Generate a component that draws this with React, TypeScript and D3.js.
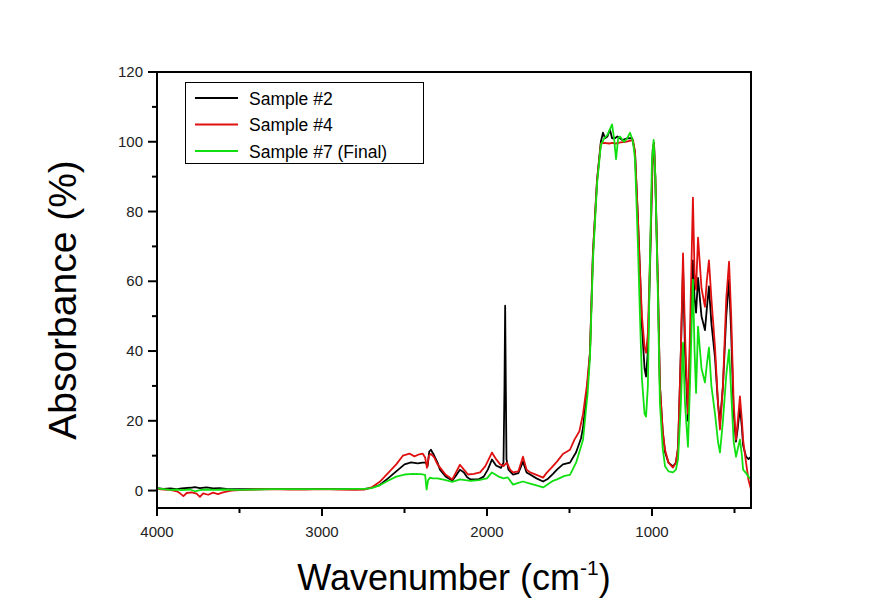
import React from "react";
import * as d3 from "d3";

type Pt = [number, number];

const sample2: Pt[] = [
[4000,0.7],[3960,0.5],[3920,0.6],[3880,0.4],[3850,0.6],[3800,0.8],[3770,1.0],[3740,0.7],[3700,0.9],[3660,0.6],[3620,0.7],[3580,0.5],[3500,0.4],[3400,0.4],[3300,0.4],[3200,0.4],[3100,0.4],[3000,0.5],[2900,0.4],[2800,0.4],[2740,0.5],[2700,0.8],[2650,1.6],[2600,3.5],[2550,5.5],[2500,7.5],[2460,8.1],[2420,7.8],[2390,8.0],[2370,8.0],[2360,7.0],[2350,11.2],[2340,11.7],[2325,10.5],[2300,8.0],[2285,6.0],[2250,4.0],[2210,2.9],[2185,4.5],[2164,6.0],[2140,5.2],[2120,3.8],[2100,3.2],[2050,3.2],[2020,4.0],[1995,6.0],[1970,8.9],[1945,7.2],[1915,6.5],[1900,8.0],[1894,30],[1890,53],[1886,30],[1882,9],[1870,6.0],[1842,4.6],[1810,5.0],[1782,8.3],[1760,5.2],[1739,4.6],[1700,3.5],[1660,2.6],[1630,3.4],[1600,4.8],[1576,6.0],[1540,7.5],[1497,8.0],[1460,11],[1430,15],[1418,18],[1395,28],[1376,39.5],[1358,68],[1333,89],[1310,100],[1297,102.6],[1285,101],[1270,101.5],[1255,103.5],[1242,101],[1225,101],[1210,101.5],[1180,100.5],[1150,101],[1120,101],[1103,97],[1085,77.6],[1073,63],[1061,47],[1045,35],[1036,32.7],[1025,40],[1010,68],[995,98],[988,99.7],[980,90],[964,58.5],[952,30],[935,17],[921,11],[900,8],[873,6.9],[855,8],[842,12],[825,40],[812,64],[800,40],[782,20],[770,40],[752,66],[742,55],[733,51],[721,61],[700,50],[679,46],[668,52],[655,58.5],[640,48],[618,38],[600,25],[588,19.5],[570,30],[550,50],[533,60.5],[520,45],[505,22],[491,14],[480,18],[467,24],[455,18],[448,13],[430,9.7],[415,9],[400,9.7]
];

const sample4: Pt[] = [
[4000,0.5],[3960,0.3],[3920,0.2],[3880,-0.2],[3860,-0.8],[3840,-1.6],[3820,-0.7],[3790,-0.5],[3760,-0.9],[3740,-1.8],[3720,-0.8],[3690,-1.2],[3660,-0.6],[3630,-1.0],[3600,-0.5],[3550,0],[3500,0.1],[3400,0.3],[3300,0.4],[3200,0.3],[3100,0.3],[3000,0.4],[2900,0.3],[2800,0.2],[2740,0.3],[2700,0.9],[2650,2.5],[2600,5.0],[2550,7.5],[2510,10.0],[2470,10.6],[2440,9.8],[2410,10.4],[2390,10.6],[2375,9.5],[2364,6.5],[2352,10.0],[2340,10.5],[2320,9.5],[2300,7.5],[2250,4.5],[2210,3.2],[2185,5.5],[2164,7.4],[2140,6.0],[2115,4.6],[2080,4.8],[2042,5.2],[2010,7.0],[1970,10.9],[1945,9.0],[1920,7.5],[1900,7.0],[1880,8.0],[1860,6.0],[1842,5.2],[1810,5.5],[1782,9.7],[1760,6.0],[1739,5.2],[1700,4.5],[1660,3.7],[1640,5.0],[1610,6.5],[1576,8.3],[1540,10.5],[1497,11.7],[1470,14.6],[1440,17],[1418,22],[1395,30],[1376,39.5],[1358,68],[1333,89],[1310,99.5],[1290,99.7],[1260,99.5],[1240,99.7],[1220,99.5],[1190,99.8],[1160,100],[1130,100.3],[1115,100.5],[1103,97],[1085,77.6],[1073,63],[1061,50],[1045,41],[1036,39.5],[1025,45],[1010,70],[995,98],[988,99.7],[980,90],[964,58.5],[952,30],[935,17],[921,11.7],[900,8],[873,6.6],[855,8],[842,12.6],[825,40],[812,68],[800,45],[782,22],[770,45],[752,84],[742,62],[733,57.6],[721,72.5],[700,58],[679,52.7],[668,60],[655,66],[640,55],[618,41],[600,25],[588,17.5],[570,30],[550,55],[533,65.6],[520,50],[505,25],[491,14.6],[480,20],[467,27],[455,20],[448,14.6],[430,8],[415,3],[400,0.3]
];

const sample7: Pt[] = [
[4000,0.6],[3960,0.4],[3920,0.2],[3880,0.3],[3850,0.1],[3800,0.3],[3770,-0.2],[3740,0.1],[3700,0.3],[3650,0.2],[3600,0.3],[3500,0.2],[3400,0.3],[3300,0.4],[3200,0.4],[3100,0.4],[3000,0.4],[2900,0.4],[2800,0.5],[2740,0.5],[2700,0.7],[2650,1.5],[2600,2.8],[2550,4.0],[2500,4.6],[2450,4.8],[2400,4.7],[2375,4.5],[2366,0.3],[2357,3.0],[2345,3.7],[2330,3.5],[2300,3.5],[2250,3.0],[2210,2.5],[2164,3.2],[2100,2.8],[2050,3.0],[2000,3.5],[1970,5.2],[1930,4.0],[1900,3.5],[1875,3.8],[1842,1.7],[1810,2.2],[1782,2.6],[1739,2.0],[1700,1.5],[1660,0.9],[1640,1.5],[1600,2.8],[1576,3.2],[1530,4.2],[1497,4.5],[1460,8],[1418,14.6],[1390,28],[1376,38],[1358,66],[1333,88],[1310,99],[1290,101],[1270,102],[1242,105],[1230,101],[1218,95],[1205,101],[1194,101.5],[1170,100],[1150,101],[1133,102.6],[1115,100],[1103,95],[1085,70],[1073,50],[1061,32],[1045,22],[1036,21.2],[1025,30],[1015,60],[1000,95],[990,100.5],[980,90],[964,55],[952,25],[935,12],[921,7],[900,5.5],[873,5.2],[855,6],[842,9],[825,25],[812,42.4],[800,25],[782,12.6],[770,30],[752,60.5],[742,40],[733,28],[721,47],[700,35],[679,31],[668,36],[655,41],[640,30],[618,22],[600,14],[588,10.9],[570,20],[550,33],[533,40.4],[520,28],[505,14],[491,9.7],[480,12],[467,14.6],[455,10],[448,6],[430,5],[415,4],[400,3.2]
];

const seriesNames = ["Sample #2", "Sample #4", "Sample #7 (Final)"];
const seriesColors = ["#000000", "#e01010", "#10e010"];
const xMajorTicks = [4000, 3000, 2000, 1000];
const xMinorTicks = [3500, 2500, 1500, 500];
const yMajorTicks = [0, 20, 40, 60, 80, 100, 120];
const yMinorTicks = [10, 30, 50, 70, 90, 110];

const W = 874, H = 612;
const L = 157, R = 751, T = 72, B = 508;

export default function App() {
  const x = d3.scaleLinear().domain([4000, 400]).range([L, R]);
  const y = d3.scaleLinear().domain([-5, 120]).range([B, T]);
  const line = d3.line<Pt>().x(d => x(d[0])).y(d => y(d[1]));
  const data = [sample2, sample4, sample7];
  const font = "'Liberation Sans', Arial, sans-serif";
  return (
    <svg width={W} height={H} style={{ position: "absolute", left: 0, top: 0, background: "#fff" }} fontFamily={font}>
      <rect x={0} y={0} width={W} height={H} fill="#fff" />
      <defs>
        <clipPath id="plotclip"><rect x={L} y={T} width={R - L} height={B - T} /></clipPath>
      </defs>
      <g clipPath="url(#plotclip)">
        {data.map((d, i) => (
          <path key={i} d={line(d) || ""} fill="none" stroke={seriesColors[i]} strokeWidth={1.8} strokeLinejoin="round" />
        ))}
      </g>
      <rect x={L} y={T} width={R - L} height={B - T} fill="none" stroke="#000" strokeWidth={2} />
      {xMajorTicks.map(t => (
        <g key={"xM" + t}>
          <line x1={x(t)} x2={x(t)} y1={B} y2={B + 8} stroke="#000" strokeWidth={2} />
          <text x={x(t)} y={537} textAnchor="middle" fontSize={15} fill="#222">{t}</text>
        </g>
      ))}
      {xMinorTicks.map(t => (
        <line key={"xm" + t} x1={x(t)} x2={x(t)} y1={B} y2={B + 5} stroke="#000" strokeWidth={2} />
      ))}
      {yMajorTicks.map(t => (
        <g key={"yM" + t}>
          <line x1={L - 9} x2={L} y1={y(t)} y2={y(t)} stroke="#000" strokeWidth={2} />
          <text x={143} y={y(t) + 5} textAnchor="end" fontSize={15} fill="#222">{t}</text>
        </g>
      ))}
      {yMinorTicks.map(t => (
        <line key={"ym" + t} x1={L - 5} x2={L} y1={y(t)} y2={y(t)} stroke="#000" strokeWidth={2} />
      ))}
      <rect x={185.5} y={82.5} width={238} height={81} fill="#fff" stroke="#000" strokeWidth={1} />
      {seriesNames.map((n, i) => (
        <g key={n}>
          <line x1={195} x2={238} y1={98 + i * 26.5} y2={98 + i * 26.5} stroke={seriesColors[i]} strokeWidth={2} />
          <text x={249} y={104.5 + i * 26.5} fontSize={17.5} fill="#000">{n}</text>
        </g>
      ))}
      <text transform="translate(76,300) rotate(-90)" textAnchor="middle" fontSize={39} fill="#000">Absorbance (%)</text>
      <text x={454} y={590} textAnchor="middle" fontSize={36} fill="#000">
        Wavenumber (cm<tspan fontSize={21} dy={-15}>-1</tspan><tspan dy={15}>)</tspan>
      </text>
    </svg>
  );
}
